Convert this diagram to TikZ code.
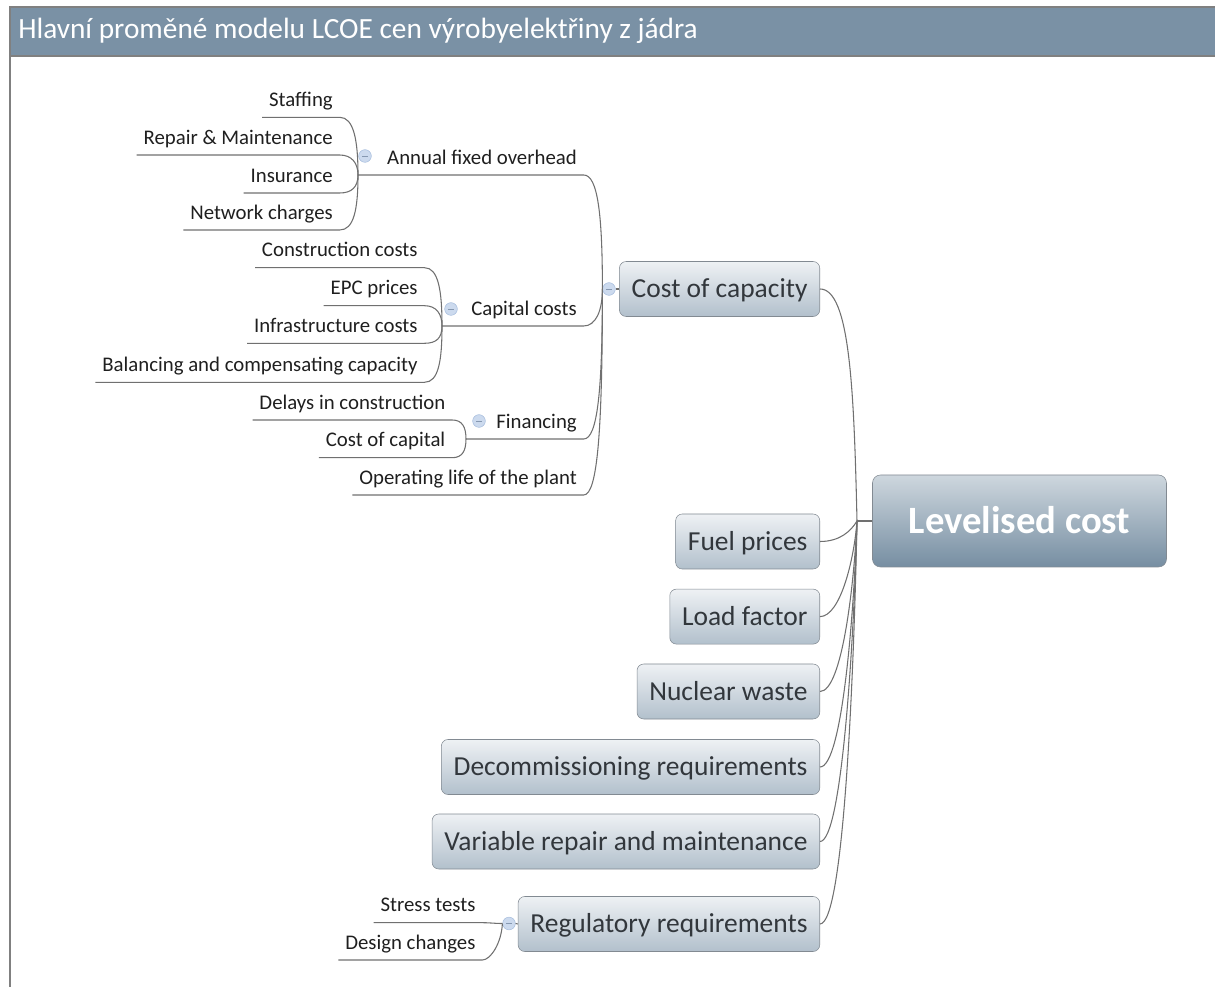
\documentclass[tikz,border=0pt]{standalone}
\usepackage{fontspec}
\setmainfont{Carlito}
\usetikzlibrary{positioning,calc}

\definecolor{headfill}{RGB}{122,145,165}
\definecolor{framegrey}{RGB}{128,128,128}
\definecolor{linegrey}{RGB}{112,112,112}
\definecolor{boxedge}{RGB}{130,138,146}
\definecolor{boxtop}{RGB}{238,241,244}
\definecolor{boxbottom}{RGB}{178,192,204}
\definecolor{roottop}{RGB}{206,215,222}
\definecolor{rootbottom}{RGB}{118,142,162}
\definecolor{boxtext}{RGB}{50,55,60}
\definecolor{foldfill}{RGB}{204,218,238}
\definecolor{foldedge}{RGB}{168,190,222}

\tikzset{
  headtext/.style={text=white, inner sep=0pt, font=\fontsize{22}{25}\selectfont},
  rootbox/.style={draw=boxedge, rounded corners=6pt, top color=roottop, bottom color=rootbottom,
    text=white, font=\fontsize{29}{32}\selectfont\bfseries, text height=18.7pt, text depth=0pt,
    minimum width=220.5pt, minimum height=69pt},
  mainbox/.style={anchor=east, draw=boxedge, rounded corners=5pt, top color=boxtop, bottom color=boxbottom,
    text=boxtext, font=\fontsize{20.6}{23}\selectfont, text height=13.3pt, text depth=0pt,
    minimum height=41.25pt, inner xsep=9.2pt},
  subitem/.style={anchor=south east, inner xsep=5pt, inner ysep=3.3pt, text=black!88,
    font=\fontsize{15.6}{18}\selectfont, text height=10.9pt, text depth=4.7pt},
  link/.style={draw=linegrey, line width=0.8pt},
  fold/.style={circle, draw=foldedge, fill=foldfill, inner sep=0pt, minimum size=9.5pt,
    path picture={\draw[foldedge!80!black, line width=0.6pt]
      ([xshift=-2.2pt]path picture bounding box.center) -- ([xshift=2.2pt]path picture bounding box.center);}}
}

\begin{document}
\begin{tikzpicture}[x=0.75pt,y=-0.75pt]
\useasboundingbox (0,0) rectangle (1215,987);

% Title bar
\fill[headfill] (10,7) rectangle (1215,56);
\draw[framegrey, line width=1.5pt] (1215,7) -- (10,7) -- (10,987);
\draw[framegrey, line width=1.5pt] (10,56) -- (1215,56);
\node[headtext, anchor=base west] (title) at (18,39) {Hlavní proměné modelu LCOE cen výrobyelektřiny z jádra};

% Root
\node[rootbox] (root) at (1019.5,521) {Levelised cost};
\coordinate (hub) at (857,521);
\draw[link] (root.west) -- (hub);

% Main branches
\node[mainbox] (cap) at (820,289) {Cost of capacity};
\node[mainbox] (fuel) at (820,541.5) {Fuel prices};
\node[mainbox] (load) at (820,616.6) {Load factor};
\node[mainbox] (waste) at (820,691.5) {Nuclear waste};
\node[mainbox] (decom) at (820,767) {Decommissioning requirements};
\node[mainbox] (varrm) at (820,841.5) {Variable repair and maintenance};
\node[mainbox] (reg) at (820,924) {Regulatory requirements};

\draw[link] (cap.east) .. controls +(30,0) and +(-3,-130) .. (hub);
\draw[link] (fuel.east) .. controls +(20,0) and +(-6,10) .. (hub);
\draw[link] (load.east) .. controls +(20,0) and +(-3,40) .. (hub);
\draw[link] (waste.east) .. controls +(22,0) and +(-3,65) .. (hub);
\draw[link] (decom.east) .. controls +(22,0) and +(-3,95) .. (hub);
\draw[link] (varrm.east) .. controls +(22,0) and +(-3,120) .. (hub);
\draw[link] (reg.east) .. controls +(24,0) and +(-3,150) .. (hub);

% Cost of capacity
\node[fold] (capdot) at (609,289) {};
\draw[link] (capdot.east) -- (cap.west);

\node[subitem] (annual) at (583.7,175) {Annual fixed overhead};
\node[subitem] (capital) at (583.7,326) {Capital costs};
\node[subitem] (finance) at (583.7,439) {Financing};
\node[subitem] (oplife) at (583.7,495) {Operating life of the plant};
\coordinate (annualjoin) at (358,175);
\coordinate (capitaljoin) at (442,326);
\coordinate (financejoin) at (466,439);

\draw[link] (capdot.west) .. controls +(0,-75) and +(14,0) .. (annual.south east) -- (annualjoin);
\draw[link] (capdot.west) .. controls +(0,22) and +(12,0) .. (capital.south east) -- (capitaljoin);
\draw[link] (capdot.west) .. controls +(0,100) and +(14,0) .. (finance.south east) -- (financejoin);
\draw[link] (capdot.west) .. controls +(0,140) and +(14,0) .. (oplife.south east) -- (oplife.south west);

% Annual fixed overhead
\node[fold] (annualdot) at (365,156) {};
\node[subitem] (staff) at (339.7,117.3) {Staffing};
\node[subitem] (repair) at (339.7,155) {Repair \& Maintenance};
\node[subitem] (insur) at (339.7,193) {Insurance};
\node[subitem] (network) at (339.7,230) {Network charges};
\draw[link] (annualjoin) .. controls +(0,-35) and +(14,0) .. (staff.south east) -- (staff.south west);
\draw[link] (annualjoin) .. controls +(0,-12) and +(12,0) .. (repair.south east) -- (repair.south west);
\draw[link] (annualjoin) .. controls +(0,12) and +(12,0) .. (insur.south east) -- (insur.south west);
\draw[link] (annualjoin) .. controls +(0,35) and +(14,0) .. (network.south east) -- (network.south west);

% Capital costs
\node[fold] (capitaldot) at (451,309) {};
\node[subitem] (constr) at (424.5,267.7) {Construction costs};
\node[subitem] (epc) at (424.5,305.7) {EPC prices};
\node[subitem] (infra) at (424.5,343.3) {Infrastructure costs};
\node[subitem] (balance) at (424.5,382.3) {Balancing and compensating capacity};
\draw[link] (capitaljoin) .. controls +(0,-35) and +(14,0) .. (constr.south east) -- (constr.south west);
\draw[link] (capitaljoin) .. controls +(0,-12) and +(12,0) .. (epc.south east) -- (epc.south west);
\draw[link] (capitaljoin) .. controls +(0,12) and +(12,0) .. (infra.south east) -- (infra.south west);
\draw[link] (capitaljoin) .. controls +(0,35) and +(14,0) .. (balance.south east) -- (balance.south west);

% Financing
\node[fold] (financedot) at (479,421) {};
\node[subitem] (delays) at (452.2,420) {Delays in construction};
\node[subitem] (capcost) at (452.2,457.7) {Cost of capital};
\draw[link] (financejoin) .. controls +(0,-12) and +(10,0) .. (delays.south east) -- (delays.south west);
\draw[link] (financejoin) .. controls +(0,12) and +(10,0) .. (capcost.south east) -- (capcost.south west);

% Regulatory requirements
\node[fold] (regdot) at (509,923.5) {};
\draw[link] (regdot.east) -- (reg.west);
\node[subitem] (stress) at (482.4,922.7) {Stress tests};
\node[subitem] (design) at (482.4,960) {Design changes};
\draw[link] (regdot.west) .. controls +(-8,0) and +(8,0) .. (stress.south east) -- (stress.south west);
\draw[link] (regdot.west) .. controls +(-1,20) and +(8,0) .. (design.south east) -- (design.south west);

\end{tikzpicture}
\end{document}
